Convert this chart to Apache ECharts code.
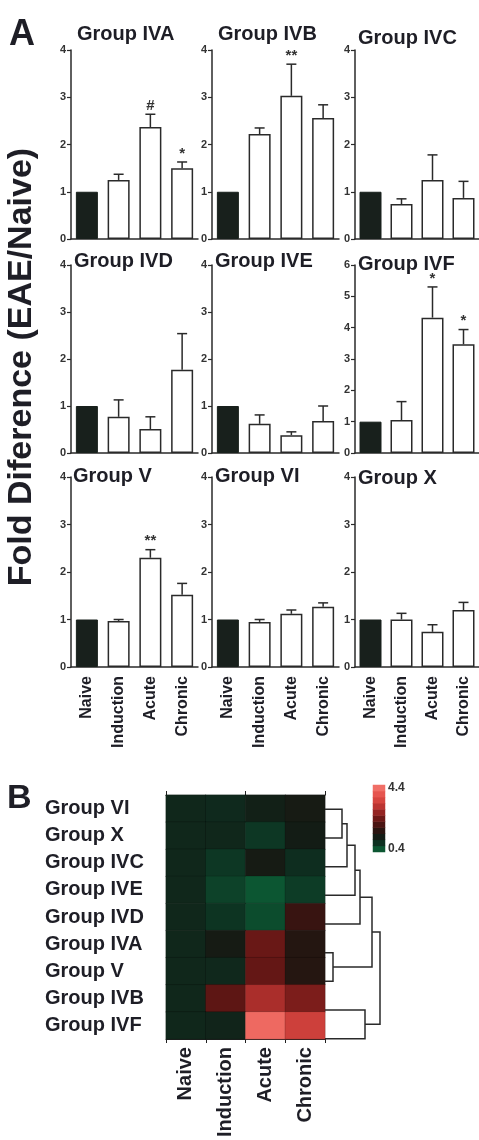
<!DOCTYPE html>
<html><head><meta charset="utf-8">
<script src="https://cdn.jsdelivr.net/npm/echarts@6/dist/echarts.min.js"></script>
<style>html,body{margin:0;padding:0;background:#fff}#c{width:479px;height:1140px}</style>
</head><body><div id="c"></div>
<script>
// ---------- data ----------
const categories = ['Naive', 'Induction', 'Acute', 'Chronic'];

const meanIVA = [1.00, 1.25, 2.37, 1.50];
const semIVA  = [0, 0.12, 0.27, 0.13];
const annIVA  = ['', '', '#', '*'];

const meanIVB = [1.00, 2.22, 3.03, 2.56];
const semIVB  = [0, 0.13, 0.67, 0.28];
const annIVB  = ['', '', '**', ''];

const meanIVC = [1.00, 0.74, 1.25, 0.87];
const semIVC  = [0, 0.11, 0.53, 0.35];
const annIVC  = ['', '', '', ''];

const meanIVD = [1.00, 0.77, 0.51, 1.77];
const semIVD  = [0, 0.36, 0.26, 0.77];
const annIVD  = ['', '', '', ''];

const meanIVE = [1.00, 0.62, 0.38, 0.68];
const semIVE  = [0, 0.19, 0.07, 0.32];
const annIVE  = ['', '', '', ''];

const meanIVF = [1.00, 1.05, 4.32, 3.47];
const semIVF  = [0, 0.59, 0.98, 0.47];
const annIVF  = ['', '', '*', '*'];

const meanV  = [1.00, 0.97, 2.30, 1.52];
const semV   = [0, 0.03, 0.17, 0.24];
const annV   = ['', '', '**', ''];

const meanVI = [1.00, 0.95, 1.12, 1.27];
const semVI  = [0, 0.05, 0.08, 0.08];
const annVI  = ['', '', '', ''];

const meanX  = [1.00, 1.00, 0.74, 1.20];
const semX   = [0, 0.13, 0.15, 0.16];
const annX   = ['', '', '', ''];

const yTicksDefault = 4;
const yTicksIVF = 6;

const heatRows = ['Group VI', 'Group X', 'Group IVC', 'Group IVE', 'Group IVD', 'Group IVA', 'Group V', 'Group IVB', 'Group IVF'];
const heatRowMeans = [meanVI, meanX, meanIVC, meanIVE, meanIVD, meanIVA, meanV, meanIVB, meanIVF];

const colorStepLabels = ['0.4', '0.8', '1.2', '1.6', '2.0', '2.4', '2.8', '3.2', '3.6', '4.0', '4.4'];
const colorStepValues = [0.4, 0.8, 1.2, 1.6, 2.0, 2.4, 2.8, 3.2, 3.6, 4.0, 4.4];

// dendrogram merges: [childA, childB, mergeHeight]; leaves are heatRows indices 0..8
const dendroMerges = [[0, 1, 17], [9, 2, 22], [10, 3, 30], [11, 4, 35], [5, 6, 8], [12, 13, 47], [7, 8, 40], [14, 15, 55]];

// ---------- layout ----------
const FONT = '"Liberation Sans", Arial, Helvetica, sans-serif';
const TXT = '#1e1e26';
const colLeft = [71, 212, 355];
const rowTB = [[50, 239], [265, 453], [477, 667]];
const panels = [
  {title: 'Group IVA', mean: meanIVA, sem: semIVA, ann: annIVA, max: yTicksDefault, tl: [77, 24]},
  {title: 'Group IVB', mean: meanIVB, sem: semIVB, ann: annIVB, max: yTicksDefault, tl: [218, 24]},
  {title: 'Group IVC', mean: meanIVC, sem: semIVC, ann: annIVC, max: yTicksDefault, tl: [358, 28]},
  {title: 'Group IVD', mean: meanIVD, sem: semIVD, ann: annIVD, max: yTicksDefault, tl: [74, 251]},
  {title: 'Group IVE', mean: meanIVE, sem: semIVE, ann: annIVE, max: yTicksDefault, tl: [215, 251]},
  {title: 'Group IVF', mean: meanIVF, sem: semIVF, ann: annIVF, max: yTicksIVF, tl: [358, 254]},
  {title: 'Group V',   mean: meanV,   sem: semV,   ann: annV,   max: yTicksDefault, tl: [73, 466]},
  {title: 'Group VI',  mean: meanVI,  sem: semVI,  ann: annVI,  max: yTicksDefault, tl: [215, 466]},
  {title: 'Group X',   mean: meanX,   sem: semX,   ann: annX,   max: yTicksDefault, tl: [358, 468]}
];

const grid = [], xAxis = [], yAxis = [], series = [], title = [];
panels.forEach((p, k) => {
  const r = Math.floor(k / 3), c = k % 3;
  grid.push({left: colLeft[c], top: rowTB[r][0], width: 127, height: rowTB[r][1] - rowTB[r][0]});
  xAxis.push({
    type: 'category', gridIndex: k, data: categories,
    axisLine: {lineStyle: {color: '#2a2a2a', width: 1.5}},
    axisTick: {show: false},
    axisLabel: {show: r === 2, rotate: 90, fontSize: 16, fontWeight: 'bold', color: TXT, fontFamily: FONT, margin: 9}
  });
  yAxis.push({
    type: 'value', gridIndex: k, min: 0, max: p.max, interval: 1,
    axisLine: {show: true, lineStyle: {color: '#2a2a2a', width: 1.5}},
    axisTick: {show: true, length: 4, lineStyle: {color: '#2a2a2a', width: 1.2}},
    axisLabel: {fontSize: 11, fontWeight: 'bold', color: '#333', fontFamily: FONT, margin: 5},
    splitLine: {show: false}
  });
  title.push({text: p.title, left: p.tl[0], top: p.tl[1], padding: 0,
    textStyle: {fontSize: 20, fontWeight: 'bold', color: TXT, fontFamily: FONT}});
  series.push({
    type: 'bar', xAxisIndex: k, yAxisIndex: k, barWidth: 22, silent: true,
    data: p.mean.map((v, i) => ({
      value: v,
      itemStyle: i === 0 ? {color: '#18201c', borderColor: '#18201c', borderWidth: 1}
                         : {color: '#ffffff', borderColor: '#2a2a2a', borderWidth: 1.5}
    }))
  });
  series.push({
    type: 'custom', xAxisIndex: k, yAxisIndex: k, silent: true, z: 5,
    data: p.mean.map((v, i) => [i, v, v + p.sem[i]]),
    encode: {x: 0, y: 2},
    renderItem: (params, api) => {
      const i = params.dataIndex;
      const base = api.coord([api.value(0), api.value(1)]);
      const top = api.coord([api.value(0), api.value(2)]);
      const ch = [];
      if (p.sem[i] > 0) {
        ch.push({type: 'line', shape: {x1: base[0], y1: base[1], x2: top[0], y2: top[1]},
          style: {stroke: '#2a2a2a', lineWidth: 1.5}});
        ch.push({type: 'line', shape: {x1: top[0] - 5, y1: top[1], x2: top[0] + 5, y2: top[1]},
          style: {stroke: '#2a2a2a', lineWidth: 1.5}});
      }
      if (p.ann[i]) {
        ch.push({type: 'text', style: {text: p.ann[i], x: top[0], y: top[1] - 1,
          textAlign: 'center', textVerticalAlign: 'bottom',
          font: 'bold 15px ' + FONT, fill: '#333'}});
      }
      return {type: 'group', children: ch};
    }
  });
});

// ---------- heatmap (B) ----------
const hk = panels.length;
grid.push({left: 166, top: 795, width: 159, height: 258});
xAxis.push({
  type: 'category', gridIndex: hk, data: categories, position: 'bottom',
  axisLine: {show: true, lineStyle: {color: '#222', width: 1}},
  axisTick: {show: true, length: 4, lineStyle: {color: '#222'}},
  axisLabel: {rotate: 90, fontSize: 20, fontWeight: 'bold', color: TXT, fontFamily: FONT, margin: 8},
  splitArea: {show: false}
});
yAxis.push({
  type: 'category', gridIndex: hk, data: heatRows, inverse: true,
  axisLine: {show: false}, axisTick: {show: false},
  axisLabel: {align: 'left', margin: 121, fontSize: 20, fontWeight: 'bold', color: TXT, fontFamily: FONT}
});
const heatData = [];
heatRowMeans.forEach((row, r) => row.forEach((v, c) => heatData.push([c, r, v])));
const heatSeriesIndex = series.length;
series.push({type: 'heatmap', xAxisIndex: hk, yAxisIndex: hk, data: heatData, silent: true,
  itemStyle: {borderColor: 'rgba(0,0,0,0.35)', borderWidth: 0.5}});

// top axis ticks on heatmap
xAxis.push({
  type: 'category', gridIndex: hk, data: categories, position: 'top',
  axisLine: {show: true, lineStyle: {color: '#222', width: 1}},
  axisTick: {show: true, length: 4, lineStyle: {color: '#222'}},
  axisLabel: {show: false}
});

// ---------- colour bar ----------
const cbk = hk + 1; // grid index
grid.push({left: 373, top: 785, width: 12, height: 67});
const cbx = xAxis.length;
xAxis.push({type: 'category', gridIndex: cbk, data: ['s'], show: false});
const cby = yAxis.length;
yAxis.push({
  type: 'category', gridIndex: cbk, data: colorStepLabels, position: 'right',
  axisLine: {show: false}, axisTick: {show: false},
  axisLabel: {interval: (idx) => idx === 0 || idx === colorStepLabels.length - 1,
    fontSize: 12, fontWeight: 'bold', color: '#333', fontFamily: FONT, margin: 3}
});
const cbSeriesIndex = series.length;
series.push({type: 'heatmap', xAxisIndex: cbx, yAxisIndex: cby, silent: true,
  data: colorStepValues.map((v, i) => [0, i, v])});

// ---------- dendrogram ----------
const dk = cbk + 1;
grid.push({left: 325, top: 795, width: 60, height: 258});
const dx = xAxis.length;
xAxis.push({type: 'value', gridIndex: dk, min: 0, max: 60, show: false});
const dy = yAxis.length;
yAxis.push({type: 'value', gridIndex: dk, min: -0.5, max: 8.5, inverse: true, show: false});
const nodeY = heatRows.map((_, i) => i);
const nodeH = heatRows.map(() => 0);
dendroMerges.forEach(m => { nodeY.push((nodeY[m[0]] + nodeY[m[1]]) / 2); nodeH.push(m[2]); });
series.push({
  type: 'custom', xAxisIndex: dx, yAxisIndex: dy, silent: true,
  data: dendroMerges.map(m => [m[2], 0]),
  encode: {x: 0, y: 1},
  renderItem: (params, api) => {
    const m = dendroMerges[params.dataIndex];
    const a = m[0], b = m[1], h = m[2];
    const pts = [[nodeH[a], nodeY[a]], [h, nodeY[a]], [h, nodeY[b]], [nodeH[b], nodeY[b]]].map(q => api.coord(q));
    return {type: 'polyline', shape: {points: pts}, style: {stroke: '#2a2a2a', lineWidth: 1.5, fill: null}};
  }
});

const option = {
  backgroundColor: '#ffffff',
  animation: false,
  textStyle: {fontFamily: FONT},
  title: title,
  grid: grid, xAxis: xAxis, yAxis: yAxis, series: series,
  visualMap: {
    show: false, min: 0.4, max: 4.4, dimension: 2,
    seriesIndex: [heatSeriesIndex, cbSeriesIndex],
    inRange: {color: ['#0c5632', '#0d3121', '#131c15', '#2a1410', '#4a1412', '#6c1816', '#942422', '#bb3532', '#d6453f', '#e6554f', '#f06e66']}
  },
  graphic: [
    {type: 'text', left: 9, top: 17, style: {text: 'A', font: 'bold 36px ' + FONT, fill: TXT}},
    {type: 'text', left: 7, top: 782, style: {text: 'B', font: 'bold 34px ' + FONT, fill: TXT}},
    {type: 'text', x: 22, y: 367, rotation: Math.PI / 2,
      style: {text: 'Fold Diference (EAE/Naive)', font: 'bold 34px ' + FONT, fill: TXT,
        textAlign: 'center', textVerticalAlign: 'middle'}}
  ]
};
const chart = echarts.init(document.getElementById('c'), null, {renderer: 'canvas'});
chart.setOption(option);
</script></body></html>
